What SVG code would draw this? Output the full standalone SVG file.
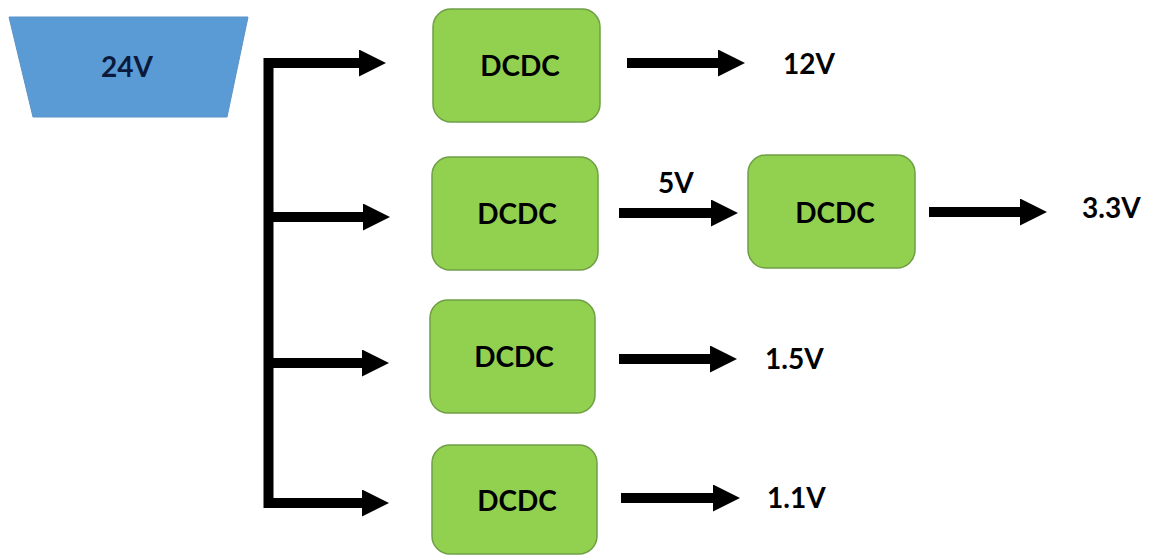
<svg xmlns="http://www.w3.org/2000/svg" width="1154" height="558" viewBox="0 0 1154 558">
<style>
.box{fill:#92d050;stroke:#6f9e45;stroke-width:1.5}
.lbl{font-family:Lato,"Liberation Sans",sans-serif;font-weight:bold;font-size:28px;fill:#000}
.mid{text-anchor:middle}
.wire{fill:none;stroke:#000;stroke-width:10;stroke-linejoin:miter}
</style>
<defs>
<marker id="ah" viewBox="0 0 27 27" refX="0" refY="13.5" markerWidth="27" markerHeight="27" markerUnits="userSpaceOnUse" orient="auto">
<path d="M0,0 L27,13.5 L0,27 Z" fill="#000"/>
</marker>
</defs>
<rect width="1154" height="558" fill="#fff"/>
<g id="src24v">
<polygon points="9,17 248,17 227,117 33,117" fill="#5b9bd5" stroke="#5a93c8" stroke-width="1"/>
<text class="lbl mid" x="127" y="77" style="fill:#0b1a3a">24V</text>
</g>
<g id="dcdc1">
<rect class="box" x="433" y="9" width="167" height="113" rx="18"/>
<text class="lbl mid" x="520" y="76">DCDC</text>
</g>
<g id="dcdc2">
<rect class="box" x="432" y="157" width="166" height="113" rx="18"/>
<text class="lbl mid" x="517" y="224">DCDC</text>
</g>
<g id="dcdc3">
<rect class="box" x="748" y="155" width="167" height="113" rx="18"/>
<text class="lbl mid" x="835" y="223">DCDC</text>
</g>
<g id="dcdc4">
<rect class="box" x="430" y="300" width="165" height="113" rx="18"/>
<text class="lbl mid" x="514" y="367">DCDC</text>
</g>
<g id="dcdc5">
<rect class="box" x="432" y="445" width="165" height="109" rx="18"/>
<text class="lbl mid" x="517" y="511">DCDC</text>
</g>
<g id="out12v"><text class="lbl" x="783" y="74">12V</text></g>
<g id="out33v"><text class="lbl" x="1082" y="218">3.3V</text></g>
<g id="out15v"><text class="lbl" x="765" y="369">1.5V</text></g>
<g id="out11v"><text class="lbl" x="767" y="508">1.1V</text></g>
<g id="connectors">
<path class="wire" d="M358,63 H268.5 V503 H362" marker-end="url(#ah)"/>
<path class="wire" d="M358,63 H359" marker-end="url(#ah)"/>
<path class="wire" d="M268.5,217 H363" marker-end="url(#ah)"/>
<path class="wire" d="M268.5,363 H362" marker-end="url(#ah)"/>
<path class="wire" d="M627,63 H718" marker-end="url(#ah)"/>
<path class="wire" d="M619,213 H711" marker-end="url(#ah)"/>
<text class="lbl" x="658" y="193">5V</text>
<path class="wire" d="M929,212 H1020" marker-end="url(#ah)"/>
<path class="wire" d="M619,359 H710" marker-end="url(#ah)"/>
<path class="wire" d="M621,498 H713" marker-end="url(#ah)"/>
</g>
</svg>
